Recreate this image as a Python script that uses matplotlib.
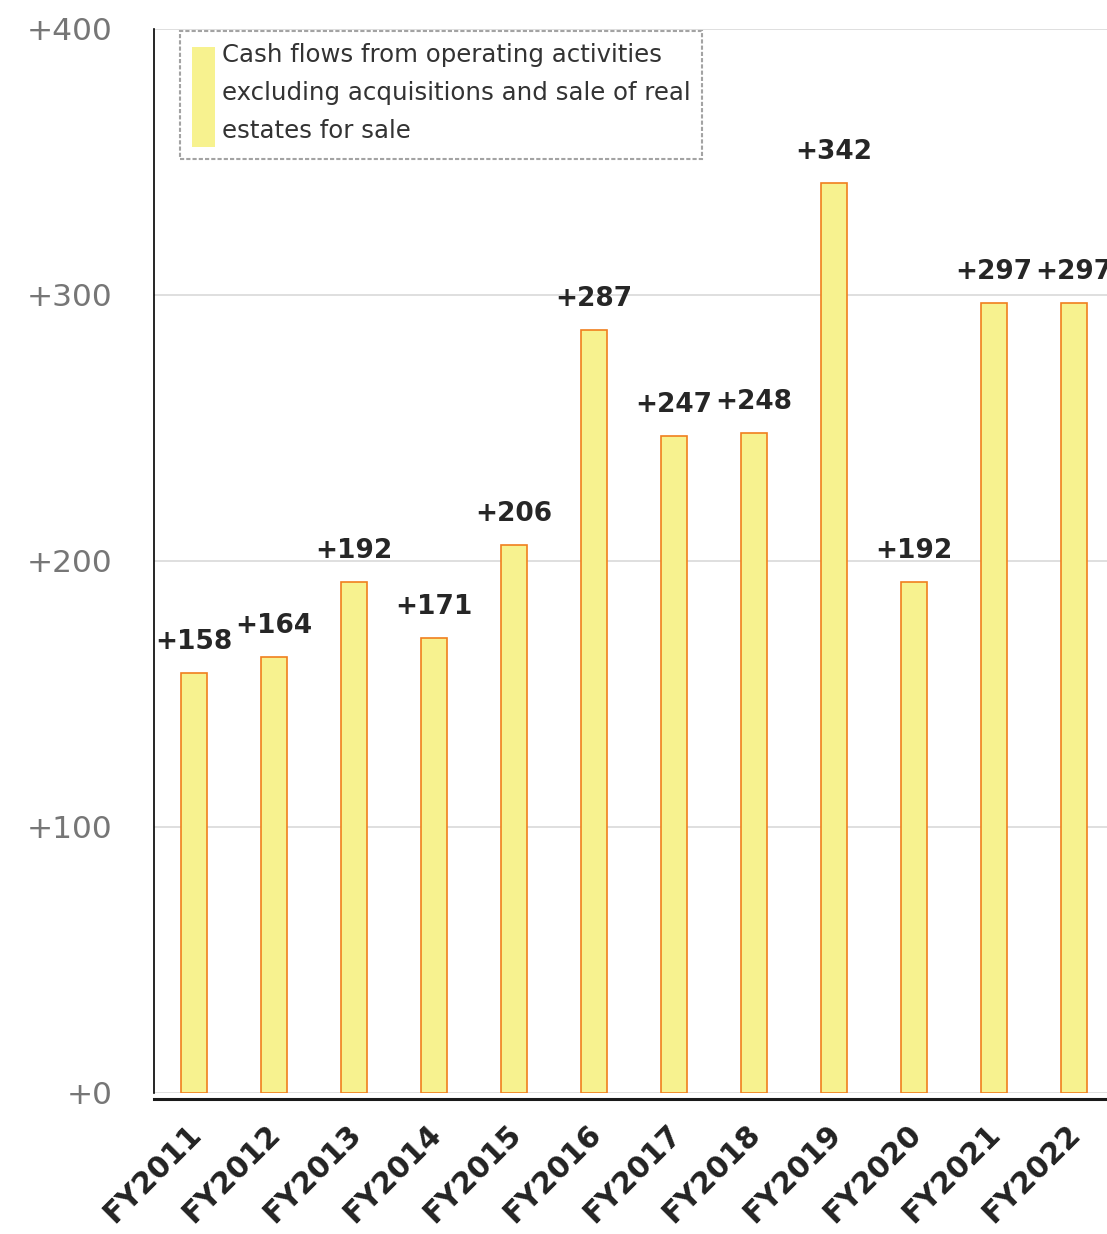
import numpy as np
import matplotlib
matplotlib.use("Agg")
import matplotlib.pyplot as plt
from matplotlib.patches import Patch
from matplotlib.transforms import ScaledTranslation

years = ["FY2011", "FY2012", "FY2013", "FY2014", "FY2015", "FY2016",
         "FY2017", "FY2018", "FY2019", "FY2020", "FY2021", "FY2022"]
cash_flows = [158, 164, 192, 171, 206, 287, 247, 248, 342, 192, 297, 297]
yticks = [0, 100, 200, 300, 400]
legend_text = ("Cash flows from operating activities\n"
               "excluding acquisitions and sale of real\n"
               "estates for sale")

plt.rcParams['font.family'] = ['DejaVu Sans']

fig = plt.figure(figsize=(11.07, 12.34), dpi=100)
ax = fig.add_axes([154/1107, 141/1234, 960/1107, 1064/1234])

# spine offset first: set_position resets the tick labels
for s in ["top", "right"]:
    ax.spines[s].set_visible(False)
ax.spines["left"].set_linewidth(1.2)
ax.spines["bottom"].set_position(("outward", 4))
ax.spines["bottom"].set_linewidth(2.2)
ax.spines["bottom"].set_color("#1a1a1a")

x = np.arange(len(years))
bars = ax.bar(x, cash_flows, width=0.325, color="#F7F28F",
              edgecolor="#F07F1E", linewidth=1.2, zorder=3)

for xi, v in zip(x, cash_flows):
    ax.annotate("+%d" % v, (xi, v), xytext=(0, 13), textcoords="offset points",
                ha="center", va="bottom", fontsize=19, fontweight="bold",
                color="#262626", annotation_clip=False)

ax.set_xlim(-0.5, len(years) - 0.5)
ax.set_ylim(0, 400)
ax.set_yticks(yticks)
ax.set_yticklabels(["+%d" % t for t in yticks], fontsize=22.5, color="#767676")
ax.yaxis.grid(True, color="#D9D9D9", linewidth=1.2, zorder=0)
ax.set_axisbelow(True)
ax.tick_params(axis="y", length=0, pad=30)
ax.set_yticks([400], minor=True)
ax.tick_params(axis="y", which="minor", direction="in", length=8, width=1.2, color="black")

ax.set_xticks(x)
ax.set_xticklabels(years, rotation=45, ha="right", va="top",
                   rotation_mode="anchor", fontsize=21.5, fontweight="bold",
                   color="#222222")
ax.tick_params(axis="x", length=0, pad=15)
shift = ScaledTranslation(-8/100, 0, fig.dpi_scale_trans)
for lbl in ax.get_xticklabels():
    lbl.set_transform(lbl.get_transform() + shift)

handle = Patch(facecolor="#F7F28F", edgecolor="none")
leg = ax.legend([handle], [legend_text], loc="upper left",
                bbox_to_anchor=(26/960, 1.0 - 2/1064), fontsize=17.6,
                handlelength=0.95, handleheight=5.9, handletextpad=0.25,
                borderpad=0.5, labelspacing=0.0, fancybox=False,
                frameon=True, borderaxespad=0)
for t in leg.get_texts():
    t.set_color("#333333")
    t.set_linespacing(1.72)
frame = leg.get_frame()
frame.set_edgecolor("#8c8c8c")
frame.set_linestyle((0, (2, 1)))
frame.set_linewidth(1.5)

fig.savefig("out.png", dpi=100)
plt.close(fig)
